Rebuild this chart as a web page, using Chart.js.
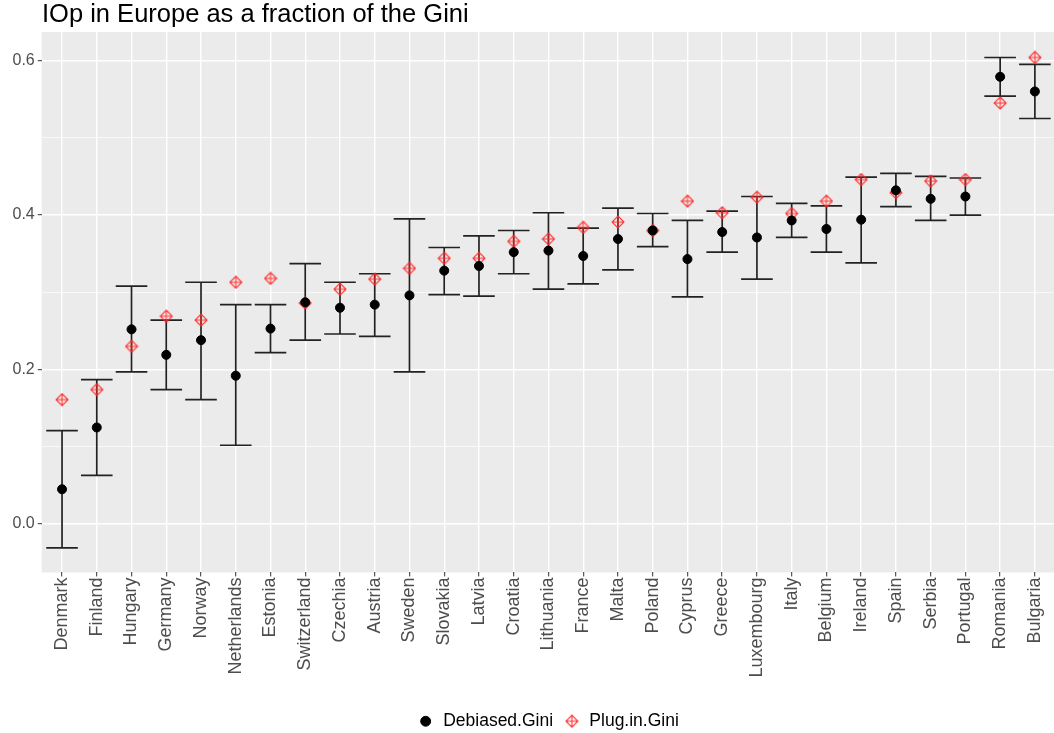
<!DOCTYPE html>
<html><head><meta charset="utf-8">
<script src="https://cdn.jsdelivr.net/npm/chart.js@4.4.1/dist/chart.umd.min.js"></script>
<style>
html,body{margin:0;padding:0;background:#fff;overflow:hidden;}
#wrap{position:relative;width:1054px;height:733px;overflow:hidden;}
#wrap canvas{display:block;}
#title{position:absolute;left:42px;top:1px;font:25.5px/25px "Liberation Sans",Arial,sans-serif;color:#000;white-space:nowrap;}
</style></head><body>
<div id="wrap"><canvas id="c"></canvas><div id="title">IOp in Europe as a fraction of the Gini</div></div>
<script>
const countries = ["Denmark","Finland","Hungary","Germany","Norway","Netherlands","Estonia","Switzerland","Czechia","Austria","Sweden","Slovakia","Latvia","Croatia","Lithuania","France","Malta","Poland","Cyprus","Greece","Luxembourg","Italy","Belgium","Ireland","Spain","Serbia","Portugal","Romania","Bulgaria"];
const debiasedGini = [0.045,0.125,0.252,0.219,0.238,0.192,0.253,0.287,0.280,0.284,0.296,0.328,0.334,0.352,0.354,0.347,0.369,0.380,0.343,0.378,0.371,0.393,0.382,0.394,0.432,0.421,0.424,0.579,0.560];
const plugInGini = [0.161,0.174,0.230,0.269,0.264,0.313,0.318,0.286,0.304,0.317,0.331,0.344,0.344,0.366,0.369,0.384,0.391,0.380,0.418,0.403,0.423,0.402,0.418,0.446,0.429,0.444,0.446,0.545,0.604];
const ciLower = [-0.031,0.063,0.197,0.174,0.161,0.102,0.222,0.238,0.246,0.243,0.197,0.297,0.295,0.324,0.304,0.311,0.329,0.359,0.294,0.352,0.317,0.371,0.352,0.338,0.411,0.393,0.400,0.554,0.525];
const ciUpper = [0.121,0.187,0.308,0.264,0.313,0.284,0.284,0.337,0.313,0.324,0.395,0.358,0.373,0.380,0.403,0.383,0.409,0.402,0.393,0.405,0.424,0.415,0.412,0.449,0.454,0.450,0.448,0.604,0.595];
const yMajorTicks = [0, 0.2, 0.4, 0.6];
const yMinorTicks = [0.1, 0.3, 0.5];
const seriesNames = ["Debiased.Gini", "Plug.in.Gini"];

const FONT = '"Liberation Sans", Arial, sans-serif';
Chart.defaults.font.family = FONT;

// marker: diamond with plus (R pch 9)
function makeDiamondPlus(){
  const s = 14, c = document.createElement('canvas');
  c.width = s; c.height = s;
  const g = c.getContext('2d');
  g.strokeStyle = 'rgba(255,40,40,0.95)';
  g.lineWidth = 1.1;
  const m = 7;
  g.beginPath();
  g.moveTo(m, 1); g.lineTo(13, m); g.lineTo(m, 13); g.lineTo(1, m); g.closePath();
  g.moveTo(m, 1); g.lineTo(m, 13);
  g.moveTo(1, m); g.lineTo(13, m);
  g.stroke();
  return c;
}
const diamondPlus = makeDiamondPlus();

const isMajor = v => yMajorTicks.some(t => Math.abs(t - v) < 1e-9);

const barData = [];
countries.forEach((c, i) => { barData.push({x:i, y:ciLower[i]}, {x:i, y:ciUpper[i]}, {x:i, y:null}); });

const panelBg = {
  id: 'panelBg',
  beforeDraw(chart){
    const a = chart.chartArea, ctx = chart.ctx;
    ctx.save(); ctx.fillStyle = '#EBEBEB';
    ctx.fillRect(a.left, a.top, a.right - a.left, a.bottom - a.top);
    ctx.restore();
  }
};

const ERR = '#222222';

new Chart(document.getElementById('c'), {
  type: 'scatter',
  data: {
    datasets: [
      { label: seriesNames[0], data: debiasedGini.map((v,i)=>({x:i,y:v})),
        pointStyle: 'circle', pointRadius: 4.5, pointBackgroundColor: '#000', pointBorderColor: '#000',
        pointBorderWidth: 1, backgroundColor: '#000', borderColor: '#000' },
      { label: seriesNames[1], data: plugInGini.map((v,i)=>({x:i,y:v})),
        pointStyle: diamondPlus, pointRadius: 7, backgroundColor: 'rgba(255,40,40,0.95)', borderColor: 'rgba(255,40,40,0.95)' },
      { label: 'ci', data: barData, showLine: true, spanGaps: false, pointRadius: 0,
        borderColor: ERR, borderWidth: 1.7 },
      { label: 'capLow', data: ciLower.map((v,i)=>({x:i,y:v})), pointStyle: 'line', pointRadius: 15.8,
        pointBorderColor: ERR, pointBorderWidth: 1.7, borderColor: ERR },
      { label: 'capHigh', data: ciUpper.map((v,i)=>({x:i,y:v})), pointStyle: 'line', pointRadius: 15.8,
        pointBorderColor: ERR, pointBorderWidth: 1.7, borderColor: ERR }
    ]
  },
  options: {
    responsive: true, maintainAspectRatio: false, animation: false, events: [],
    layout: { autoPadding: false, padding: { left: 9.5, right: 0, top: 32, bottom: -7 } },
    scales: {
      x: {
        type: 'linear', min: -0.584, max: 28.55,
        afterBuildTicks: s => { s.ticks = countries.map((c,i)=>({value:i})); },
        afterFit: s => { s.paddingLeft = 0; s.paddingRight = 0; },
        ticks: { autoSkip: false, maxRotation: 90, minRotation: 90, padding: 1, color: '#4D4D4D',
          font: { size: 18 }, callback: v => countries[v] },
        grid: { color: '#FFFFFF', lineWidth: 1.4, tickLength: 4, tickColor: '#333333', tickWidth: 1 },
        border: { display: false },
        title: { display: true, text: '', padding: 0, font: { size: 20 } }
      },
      y: {
        type: 'linear', min: -0.0627, max: 0.637,
        afterBuildTicks: s => { s.ticks = yMajorTicks.concat(yMinorTicks).sort((a,b)=>a-b).map(v=>({value:v})); },
        ticks: { padding: 3, color: '#4D4D4D', font: { size: 16 },
          callback: v => isMajor(v) ? v.toFixed(1) : '' },
        grid: { color: '#FFFFFF', lineWidth: c => isMajor(c.tick.value) ? 1.4 : 0.7,
          tickColor: c => isMajor(c.tick.value) ? '#333333' : 'rgba(0,0,0,0)', tickLength: 4, tickWidth: 1 },
        border: { display: false }
      }
    },
    plugins: {
      title: { display: false },
      tooltip: { enabled: false },
      legend: {
        position: 'bottom', fullSize: false, align: 'center',
        labels: { usePointStyle: true, boxWidth: 22, boxHeight: 7, color: '#000', padding: 10,
          font: { size: 17.5 }, filter: item => item.datasetIndex < 2 }
      }
    }
  },
  plugins: [panelBg]
});
</script>
</body></html>
